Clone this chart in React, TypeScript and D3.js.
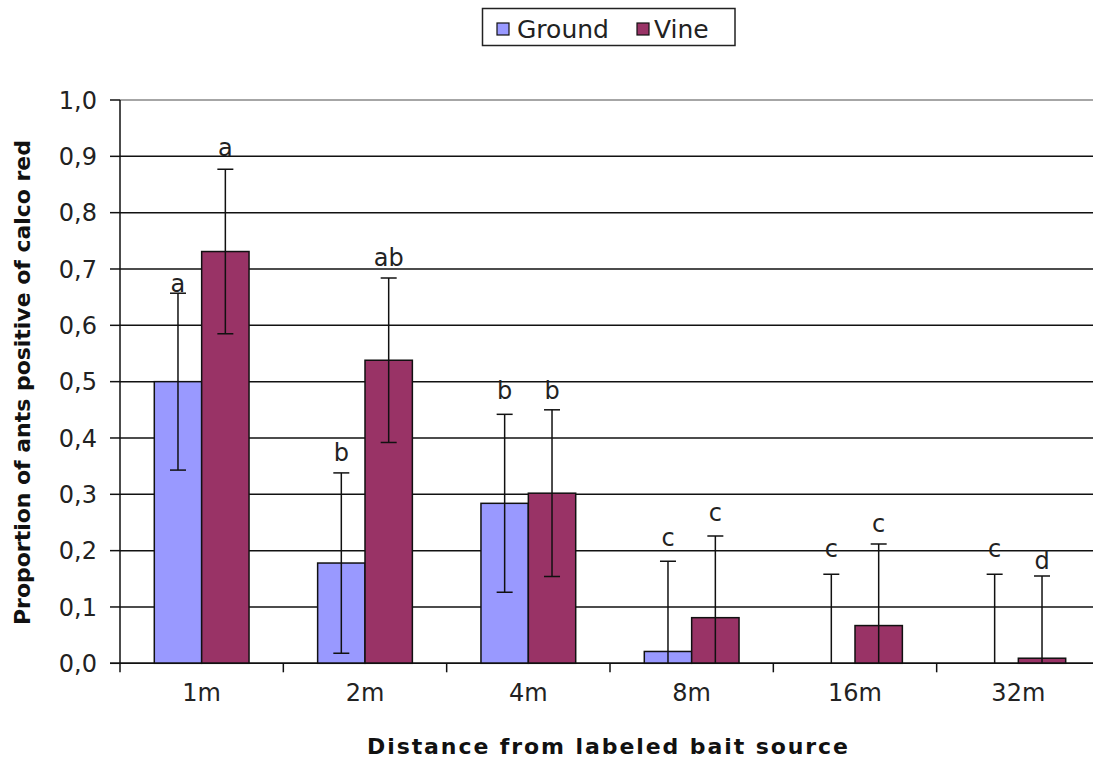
import React from "react";
import * as d3 from "d3";

const categories = ["1m", "2m", "4m", "8m", "16m", "32m"];
const seriesNames = ["Ground", "Vine"];
const groundValues = [0.5, 0.178, 0.284, 0.021, 0, 0];
const groundErrors = [0.157, 0.16, 0.158, 0.16, 0.158, 0.158];
const vineValues = [0.731, 0.538, 0.302, 0.081, 0.067, 0.009];
const vineErrors = [0.146, 0.146, 0.148, 0.145, 0.145, 0.146];
const groundLetters = ["a", "b", "b", "c", "c", "c"];
const groundLetterY = [0.659, 0.36, 0.469, 0.208, 0.189, 0.189];
const vineLetters = ["a", "ab", "b", "c", "c", "d"];
const vineLetterY = [0.901, 0.705, 0.469, 0.253, 0.233, 0.167];
const yTicks = [0, 0.1, 0.2, 0.3, 0.4, 0.5, 0.6, 0.7, 0.8, 0.9, 1.0];

const colors = ["#9999FF", "#993366"];
const FONT = "'DejaVu Sans', Verdana, sans-serif";

export default function App() {
  const W = 1093, H = 760;
  const left = 120, right = 1100, top = 100, bottom = 663.3;
  const x = d3.scaleBand<string>().domain(categories).range([left, right]).padding(0);
  const step = x.bandwidth();
  const xi = d3.scaleBand<string>().domain(seriesNames).range([step * 0.21, step * 0.79]).padding(0);
  const y = d3.scaleLinear().domain([0, 1]).range([bottom, top]);
  const bw = xi.bandwidth();

  const series = [
    { name: "Ground", values: groundValues, errors: groundErrors, letters: groundLetters, letterY: groundLetterY, color: colors[0] },
    { name: "Vine", values: vineValues, errors: vineErrors, letters: vineLetters, letterY: vineLetterY, color: colors[1] },
  ];

  return (
    <svg width={W} height={H} style={{ position: "absolute", left: 0, top: 0, background: "#fff" }} fontFamily={FONT}>
      <defs>
        <clipPath id="plotclip">
          <rect x={left} y={top - 20} width={W - left} height={bottom - top + 20} />
        </clipPath>
      </defs>
      {/* gridlines */}
      {yTicks.map((t) => (
        <line key={"g" + t} x1={left} x2={W} y1={y(t)} y2={y(t)}
          stroke={t === 1 ? "#888" : "#111"} strokeWidth={1.5} />
      ))}
      {/* y ticks + labels */}
      {yTicks.map((t) => (
        <g key={"t" + t}>
          <line x1={left - 10} x2={left} y1={y(t)} y2={y(t)} stroke="#111" strokeWidth={1.5} />
          <text x={97} y={y(t)} dy="0.36em" textAnchor="end" fontSize={24} fill="#222">
            {d3.format(".1f")(t).replace(".", ",")}
          </text>
        </g>
      ))}
      {/* bars */}
      {series.map((s) =>
        categories.map((c, i) => {
          const bx = (x(c) as number) + (xi(s.name) as number);
          const v = s.values[i];
          if (v <= 0) return null;
          return (
            <rect key={s.name + c} x={bx} y={y(v)} width={bw} height={y(0) - y(v)}
              fill={s.color} stroke="#111" strokeWidth={1.5} />
          );
        })
      )}
      {/* error bars */}
      <g clipPath="url(#plotclip)">
        {series.map((s) =>
          categories.map((c, i) => {
            const cx = (x(c) as number) + (xi(s.name) as number) + bw / 2;
            const v = s.values[i];
            const e = s.errors[i];
            const lo = Math.max(0, v - e);
            return (
              <g key={"e" + s.name + c}>
                <line x1={cx} x2={cx} y1={y(v + e)} y2={y(lo)} stroke="#111" strokeWidth={1.5} />
                <line x1={cx - 8} x2={cx + 8} y1={y(v + e)} y2={y(v + e)} stroke="#111" strokeWidth={1.5} />
                {v - e >= 0 && (
                  <line x1={cx - 8} x2={cx + 8} y1={y(v - e)} y2={y(v - e)} stroke="#111" strokeWidth={1.5} />
                )}
              </g>
            );
          })
        )}
      </g>
      {/* letters */}
      {series.map((s) =>
        categories.map((c, i) => {
          const cx = (x(c) as number) + (xi(s.name) as number) + bw / 2;
          return (
            <text key={"l" + s.name + c} x={cx} y={y(s.letterY[i])} textAnchor="middle" fontSize={24} fill="#222">
              {s.letters[i]}
            </text>
          );
        })
      )}
      {/* axes */}
      <line x1={left} x2={left} y1={top} y2={bottom + 9} stroke="#111" strokeWidth={1.5} />
      <line x1={left - 10} x2={W} y1={bottom} y2={bottom} stroke="#111" strokeWidth={1.5} />
      {categories.map((c, i) => (
        <g key={"x" + c}>
          {i > 0 && (
            <line x1={x(c)} x2={x(c)} y1={bottom} y2={bottom + 9} stroke="#111" strokeWidth={1.5} />
          )}
          <text x={(x(c) as number) + step / 2} y={692} dy="0.36em" textAnchor="middle" fontSize={24} fill="#222">
            {c}
          </text>
        </g>
      ))}
      {/* axis titles */}
      <text x={607.5} y={746} dy="0.36em" textAnchor="middle" fontSize={22} fontWeight="bold"
        textLength={481} lengthAdjust="spacing" fill="#111">
        Distance from labeled bait source
      </text>
      <text transform={`translate(22,${382.5}) rotate(-90)`} dy="0.36em" textAnchor="middle" fontSize={22}
        fontWeight="bold" textLength={485} lengthAdjust="spacing" fill="#111">
        Proportion of ants positive of calco red
      </text>
      {/* legend */}
      <rect x={482.5} y={8.5} width={252.5} height={37} fill="#fff" stroke="#222" strokeWidth={1.5} />
      {series.map((s, i) => {
        const lx = i === 0 ? 497 : 637;
        const tx = i === 0 ? 517 : 654;
        return (
          <g key={"lg" + s.name}>
            <rect x={lx} y={23} width={12} height={12} fill={s.color} stroke="#111" strokeWidth={1.2} />
            <text x={tx} y={29} dy="0.36em" fontSize={25} fill="#222">{s.name}</text>
          </g>
        );
      })}
    </svg>
  );
}
